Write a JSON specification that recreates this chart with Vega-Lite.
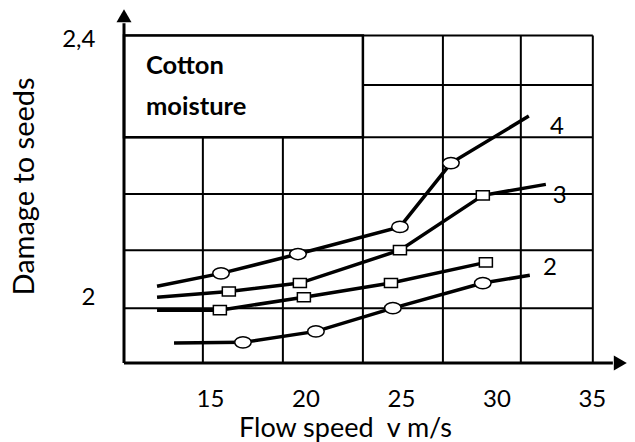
{
  "$schema": "https://vega.github.io/schema/vega-lite/v6.json",
  "width": 503,
  "height": 354,
  "autosize": "none",
  "padding": {"left": 124, "top": 9, "right": 8, "bottom": 79},
  "config": {"view": {"stroke": null}, "font": "Lato"},
  "datasets": {
    "vlines": [{"v": 14.63}, {"v": 18.82}, {"v": 23.01}, {"v": 27.2}, {"v": 31.28}, {"v": 35.05}],
    "hlines": [{"h": 1.983}, {"h": 2.073}, {"h": 2.16}, {"h": 2.248}, {"h": 2.329}, {"h": 2.406}],
    "box": [{"x1": 10.5, "x2": 23.01, "y1": 2.248, "y2": 2.406}],
    "curves": [
      {"series": "4", "speed": 12.23, "damage": 2.017, "marker": "none"},
      {"series": "4", "speed": 15.58, "damage": 2.037, "marker": "o"},
      {"series": "4", "speed": 19.61, "damage": 2.067, "marker": "o"},
      {"series": "4", "speed": 24.95, "damage": 2.109, "marker": "o"},
      {"series": "4", "speed": 27.62, "damage": 2.208, "marker": "o"},
      {"series": "4", "speed": 31.7, "damage": 2.281, "marker": "none"},
      {"series": "3", "speed": 12.23, "damage": 2.0, "marker": "none"},
      {"series": "3", "speed": 15.99, "damage": 2.009, "marker": "s"},
      {"series": "3", "speed": 19.71, "damage": 2.022, "marker": "s"},
      {"series": "3", "speed": 24.95, "damage": 2.073, "marker": "s"},
      {"series": "3", "speed": 29.29, "damage": 2.158, "marker": "s"},
      {"series": "3", "speed": 32.59, "damage": 2.175, "marker": "none"},
      {"series": "1", "speed": 12.23, "damage": 1.98, "marker": "none"},
      {"series": "1", "speed": 15.52, "damage": 1.98, "marker": "s"},
      {"series": "1", "speed": 19.92, "damage": 2.0, "marker": "s"},
      {"series": "1", "speed": 24.48, "damage": 2.022, "marker": "s"},
      {"series": "1", "speed": 29.45, "damage": 2.054, "marker": "s"},
      {"series": "2", "speed": 13.12, "damage": 1.929, "marker": "none"},
      {"series": "2", "speed": 16.73, "damage": 1.93, "marker": "o"},
      {"series": "2", "speed": 20.55, "damage": 1.947, "marker": "o"},
      {"series": "2", "speed": 24.58, "damage": 1.983, "marker": "o"},
      {"series": "2", "speed": 29.29, "damage": 2.022, "marker": "o"},
      {"series": "2", "speed": 31.75, "damage": 2.034, "marker": "none"}
    ],
    "notes": [
      {"speed": 11.65, "damage": 2.3457, "text": "Cotton"},
      {"speed": 11.65, "damage": 2.2822, "text": "moisture"}
    ],
    "curvelabels": [
      {"speed": 33.17, "damage": 2.2527, "text": "4"},
      {"speed": 33.32, "damage": 2.1457, "text": "3"},
      {"speed": 32.8, "damage": 2.0341, "text": "2"}
    ],
    "axislines": [
      {"x1": 10.5, "x2": 10.5, "y1": 1.898, "y2": 2.425},
      {"x1": 10.5, "x2": 36.1, "y1": 1.898, "y2": 1.898}
    ],
    "uparrow": [{"speed": 10.5, "damage": 2.4364}],
    "rightarrow": [{"speed": 36.49, "damage": 1.898}]
  },
  "layer": [
    {
      "data": {"name": "vlines"},
      "mark": {"type": "rule", "color": "black", "strokeWidth": 2},
      "encoding": {
        "x": {"field": "v", "type": "quantitative", "scale": {"domain": [10.5, 36.84], "nice": false, "zero": false}},
        "y": {"datum": 1.898, "type": "quantitative", "scale": {"domain": [1.898, 2.447], "nice": false, "zero": false}},
        "y2": {"datum": 2.406}
      }
    },
    {
      "data": {"name": "hlines"},
      "mark": {"type": "rule", "color": "black", "strokeWidth": 2},
      "encoding": {
        "y": {"field": "h", "type": "quantitative"},
        "x": {"datum": 10.5, "type": "quantitative"},
        "x2": {"datum": 35.05}
      }
    },
    {
      "data": {"name": "box"},
      "mark": {"type": "rect", "fill": "white", "stroke": "black", "strokeWidth": 2.5},
      "encoding": {
        "x": {"field": "x1", "type": "quantitative"},
        "x2": {"field": "x2"},
        "y": {"field": "y1", "type": "quantitative"},
        "y2": {"field": "y2"}
      }
    },
    {
      "data": {"name": "curves"},
      "mark": {"type": "line", "color": "black", "strokeWidth": 3.5},
      "encoding": {
        "x": {
          "field": "speed", "type": "quantitative",
          "axis": {
            "values": [15, 20, 25, 30, 35],
            "domain": false, "ticks": false, "tickSize": 0, "grid": false,
            "labelFontSize": 24, "labelColor": "black", "labelBaseline": "alphabetic", "labelPadding": 43,
            "labelFlush": false, "labelOverlap": false,
            "title": "Flow speed\u00a0 v m/s", "titleFontSize": 27, "titleFontWeight": "normal", "titleColor": "black",
            "titleX": 221, "titleY": 73, "titleAlign": "center", "titleBaseline": "alphabetic"
          }
        },
        "y": {
          "field": "damage", "type": "quantitative",
          "axis": {
            "values": [2, 2.4],
            "labelExpr": "replace(format(datum.value, '~g'), '.', ',')",
            "domain": false, "ticks": false, "tickSize": 0, "grid": false,
            "labelFontSize": 24, "labelColor": "black", "labelAlign": "right", "labelBaseline": "middle", "labelPadding": 29,
            "labelFlush": false, "labelOverlap": false,
            "title": "Damage to seeds", "titleFontSize": 29, "titleFontWeight": "normal", "titleColor": "black",
            "titleAngle": -90, "titleX": -91, "titleY": 177, "titleAlign": "center", "titleBaseline": "alphabetic"
          }
        },
        "detail": {"field": "series"}
      }
    },
    {
      "data": {"name": "curves"},
      "transform": [{"filter": "datum.marker != 'none'"}],
      "mark": {"type": "point", "filled": true, "fill": "white", "stroke": "black", "strokeWidth": 1.5, "opacity": 1, "size": 272},
      "encoding": {
        "x": {"field": "speed", "type": "quantitative"},
        "y": {"field": "damage", "type": "quantitative"},
        "shape": {
          "field": "marker", "type": "nominal", "legend": null,
          "scale": {"domain": ["o", "s"], "range": ["M-1,0A1,0.68,0,1,0,1,0A1,0.68,0,1,0,-1,0Z", "M-0.79,-0.55H0.79V0.55H-0.79Z"]}
        }
      }
    },
    {
      "data": {"name": "notes"},
      "mark": {"type": "text", "align": "left", "baseline": "alphabetic", "fontSize": 25.5, "fontWeight": "bold", "color": "black"},
      "encoding": {
        "x": {"field": "speed", "type": "quantitative"},
        "y": {"field": "damage", "type": "quantitative"},
        "text": {"field": "text"}
      }
    },
    {
      "data": {"name": "curvelabels"},
      "mark": {"type": "text", "align": "center", "baseline": "alphabetic", "fontSize": 24, "color": "black"},
      "encoding": {
        "x": {"field": "speed", "type": "quantitative"},
        "y": {"field": "damage", "type": "quantitative"},
        "text": {"field": "text"}
      }
    },
    {
      "data": {"name": "axislines"},
      "mark": {"type": "rule", "color": "black", "strokeWidth": 3},
      "encoding": {
        "x": {"field": "x1", "type": "quantitative"},
        "x2": {"field": "x2"},
        "y": {"field": "y1", "type": "quantitative"},
        "y2": {"field": "y2"}
      }
    },
    {
      "data": {"name": "uparrow"},
      "mark": {"type": "point", "shape": "triangle-up", "filled": true, "color": "black", "opacity": 1, "size": 225},
      "encoding": {
        "x": {"field": "speed", "type": "quantitative"},
        "y": {"field": "damage", "type": "quantitative"}
      }
    },
    {
      "data": {"name": "rightarrow"},
      "mark": {"type": "point", "shape": "triangle-right", "filled": true, "color": "black", "opacity": 1, "size": 225},
      "encoding": {
        "x": {"field": "speed", "type": "quantitative"},
        "y": {"field": "damage", "type": "quantitative"}
      }
    }
  ]
}
